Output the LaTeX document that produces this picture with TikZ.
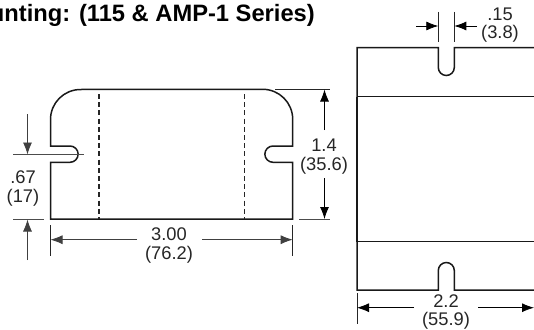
\documentclass[tikz,border=0pt]{standalone}
\usepackage{fontspec}
\setmainfont{Liberation Sans}
\usetikzlibrary{arrows.meta}
\tikzset{
  outline/.style={line width=1.5pt,black!90},
  thin/.style={line width=0.8pt,black!85},
  dim/.style={line width=0.8pt,black!75,-{Latex[length=12pt,width=9pt]}},
  ext/.style={line width=0.8pt,black!70},
  lab/.style={font=\fontsize{18.3}{18.5}\selectfont,align=center,inner sep=0pt,text=black!85},
  hid/.style={line width=1.8pt,dash pattern=on 5pt off 3.2pt,black!85},
  ttl/.style={font=\fontsize{23.7}{26}\selectfont\bfseries,inner sep=0pt,anchor=base east}
}
\begin{document}
\begin{tikzpicture}[x=1pt,y=-1pt]
\useasboundingbox (0,0) rectangle (534,329);
\fill[white] (0,0) rectangle (534,329);
\node[ttl] (title) at (315,21.7) {Mounting: (115 \& AMP-1 Series)};
% left view
\draw[outline] (50.5,146) -- (50.5,119.5) arc[start angle=180,end angle=90,x radius=30,y radius=-30] -- (262.7,89.3)
  arc[start angle=90,end angle=0,x radius=30,y radius=-30] -- (292.7,146) -- (273,146)
  arc[start angle=90,end angle=270,x radius=8.15,y radius=-8.15] -- (292.7,162.3) -- (292.7,219) -- (50.5,219) -- (50.5,162.3) -- (70,162.3)
  arc[start angle=-90,end angle=90,x radius=8.15,y radius=-8.15] -- cycle;
\draw[hid] (99.2,94) -- (99.2,219);
\draw[hid] (244.5,94) -- (244.5,219);
% .67
\coordinate (a1s) at (27.5,114); \coordinate (a1e) at (27.5,154.5);
\coordinate (a2s) at (27.5,260); \coordinate (a2e) at (27.5,219.5);
\draw[ext] (13,154.7) -- (84,154.7);
\draw[ext] (13,219) -- (44,219);
\draw[dim] (a1s) -- (a1e);
\draw[dim] (a2s) -- (a2e);
\node[lab] (n67) at (23,188.5) {.67\\(17)};
% 3.00
\draw[thin] (50.5,225) -- (50.5,256);
\draw[thin] (292.7,225) -- (292.7,256);
\node[lab] (n300) at (169,245.5) {3.00\\(76.2)};
\coordinate (b1) at (50.5,239.7); \coordinate (b2) at (292.7,239.7);
\draw[dim] (137,239.7) -- (b1);
\draw[dim] (202,239.7) -- (b2);
% 1.4
\draw[thin] (275,89.3) -- (330,89.3);
\draw[ext] (299,219) -- (330,219);
\node[lab] (n14) at (324,156.5) {1.4\\(35.6)};
\coordinate (c1) at (324.5,89.5); \coordinate (c2) at (324.5,219);
\draw[dim,black] (324.5,130) -- (c1);
\draw[dim,black] (324.5,178) -- (c2);
% right view
\draw[outline] (534,47.5) -- (454.3,47.5) -- (454.3,67.5) arc[start angle=0,end angle=-180,x radius=8,y radius=-8] -- (438.3,47.5) -- (357,47.5) -- (357,290) -- (438.3,290) -- (438.3,270.5)
  arc[start angle=180,end angle=0,x radius=8,y radius=-8] -- (454.3,290) -- (534,290);
\draw[outline] (357,96.5) -- (534,96.5);
\draw[outline] (357,241.5) -- (534,241.5);
\draw[line width=2.2pt,black!90] (357,96.5) -- (357,241.5);
% .15
\draw[thin] (438.3,12) -- (438.3,42);
\draw[thin] (454.3,12) -- (454.3,42);
\coordinate (d1) at (438.3,26); \coordinate (d2) at (454.3,26);
\draw[dim,black] (416,26) -- (d1);
\draw[dim,black] (477,26) -- (d2);
\node[lab] (n15) at (500,25) {.15\\(3.8)};
% 2.2
\draw[thin] (357,293) -- (357,324);
\coordinate (e1) at (357,307.7); \coordinate (e2) at (534,307.7);
\draw[dim,black] (414,307.7) -- (e1);
\draw[dim,black] (478,307.7) -- (e2);
\node[lab] (n22) at (446,312) {2.2\\(55.9)};
\end{tikzpicture}
\end{document}
